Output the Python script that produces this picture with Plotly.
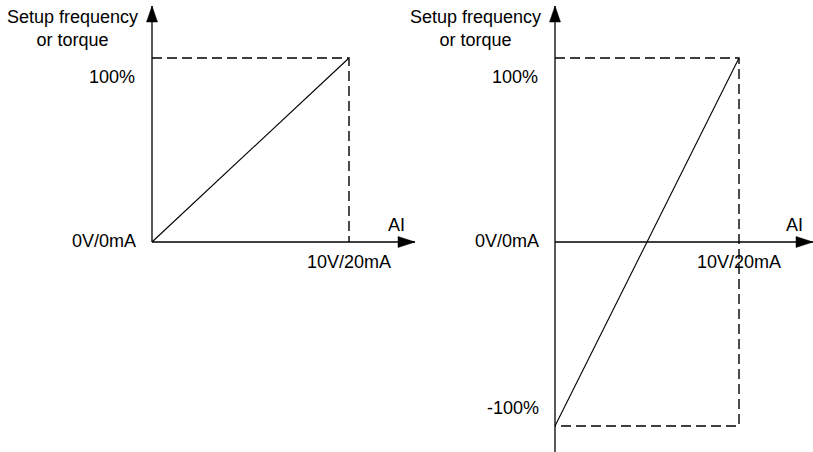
import plotly.graph_objects as go

# ---------------- data ----------------
ai_span = [0, 10]                 # analog input: 0V/0mA .. 10V/20mA
left_setpoint = [0, 100]          # % (unipolar)
right_setpoint = [-100, 100]      # % (bipolar)
x_tick_labels = ["0V/0mA", "10V/20mA"]
left_y_labels = ["100%"]
right_y_labels = ["100%", "-100%"]
y_title = "Setup frequency<br>or torque"
x_title = "AI"

# ---------------- layout geometry (pixels) ----------------
W, H = 813, 452
FONT = dict(family="Arial, 'Liberation Sans', sans-serif", size=18, color="black")

# per panel: origin px, px-per-unit, domain px, axis end px
panels = [
    dict(xo=152, xppu=19.7, xd=(140, 425), xend=415,
         yo=242, yppu=1.84, yd=(0, 255), ytop=6, ybot=242, sp=left_setpoint,
         ylabels=left_y_labels, xa="x", ya="y"),
    dict(xo=555, xppu=18.4, xd=(545, 813), xend=813,
         yo=242, yppu=1.84, yd=(0, 452), ytop=6, ybot=452, sp=right_setpoint,
         ylabels=right_y_labels, xa="x2", ya="y2"),
]

fig = go.Figure()
shapes = []
annotations = []
layout_axes = {}

for i, p in enumerate(panels):
    xv = lambda px, p=p: (px - p["xo"]) / p["xppu"]
    yv = lambda py, p=p: (p["yo"] - py) / p["yppu"]
    xname = "xaxis" if i == 0 else "xaxis2"
    yname = "yaxis" if i == 0 else "yaxis2"
    layout_axes[xname] = dict(domain=[p["xd"][0] / W, p["xd"][1] / W],
                              range=[xv(p["xd"][0]), xv(p["xd"][1])],
                              anchor=p["ya"], visible=False, fixedrange=True)
    layout_axes[yname] = dict(domain=[1 - p["yd"][1] / H, 1 - p["yd"][0] / H],
                              range=[yv(p["yd"][1]), yv(p["yd"][0])],
                              anchor=p["xa"], visible=False, fixedrange=True)

    x0, x1 = ai_span
    lo, hi = p["sp"]
    x_end = xv(p["xend"])
    y_top = yv(p["ytop"])
    y_bot = yv(p["ybot"])

    # axes
    shapes.append(dict(type="line", xref=p["xa"], yref=p["ya"], x0=x0, y0=0, x1=x_end, y1=0,
                       line=dict(color="black", width=1.3)))
    shapes.append(dict(type="line", xref=p["xa"], yref=p["ya"], x0=x0, y0=y_bot, x1=x0, y1=y_top,
                       line=dict(color="black", width=1.3)))
    # arrow heads (pixel-sized)
    shapes.append(dict(type="path", xref=p["xa"], yref=p["ya"], xsizemode="pixel", ysizemode="pixel",
                       xanchor=x_end, yanchor=0, path="M0,0 L-17,5.5 L-17,-5.5 Z",
                       fillcolor="black", line=dict(color="black", width=0.5)))
    shapes.append(dict(type="path", xref=p["xa"], yref=p["ya"], xsizemode="pixel", ysizemode="pixel",
                       xanchor=x0, yanchor=y_top, path="M0,0 L-5.5,-16 L5.5,-16 Z",
                       fillcolor="black", line=dict(color="black", width=0.5)))

    # dashed guides
    gx = [x0, x1, x1] + ([x0] if lo < 0 else [])
    gy = [hi, hi, lo if lo < 0 else 0] + ([lo] if lo < 0 else [])
    fig.add_trace(go.Scatter(x=gx, y=gy, mode="lines", xaxis=p["xa"], yaxis=p["ya"],
                             line=dict(color="black", width=1.4, dash="10px,5px"),
                             hoverinfo="skip", showlegend=False))
    # characteristic line
    fig.add_trace(go.Scatter(x=ai_span, y=p["sp"], mode="lines", xaxis=p["xa"], yaxis=p["ya"],
                             line=dict(color="black", width=1.1), showlegend=False))

    # texts
    def ann(text, x, y, xanchor="right", xshift=0, yshift=0, align="center"):
        annotations.append(dict(text=text, x=x, y=y, xref=p["xa"], yref=p["ya"],
                                xanchor=xanchor, yanchor="middle", xshift=xshift, yshift=yshift,
                                showarrow=False, font=FONT, align=align))
    ann(y_title, x0, y_top, xshift=-12, yshift=-22)
    ann(x_tick_labels[0], x0, 0, xshift=-14, yshift=1)
    ann(x_tick_labels[1], x1, 0, xanchor="center", yshift=-20)
    ann(x_title, x_end, 0, xanchor="center", xshift=-19, yshift=17)
    ann(p["ylabels"][0], x0, hi, xshift=-15, yshift=-19)
    if lo < 0:
        ann(p["ylabels"][1], x0, lo, xshift=-14, yshift=18)

fig.update_layout(width=W, height=H, margin=dict(l=0, r=0, t=0, b=0), autosize=False,
                  paper_bgcolor="white", plot_bgcolor="white", hovermode=False,
                  shapes=shapes, annotations=annotations, **layout_axes)

fig.write_html("out.html", config={"displayModeBar": False},
               post_script="document.body.style.margin='0';document.body.style.overflow='hidden';")
